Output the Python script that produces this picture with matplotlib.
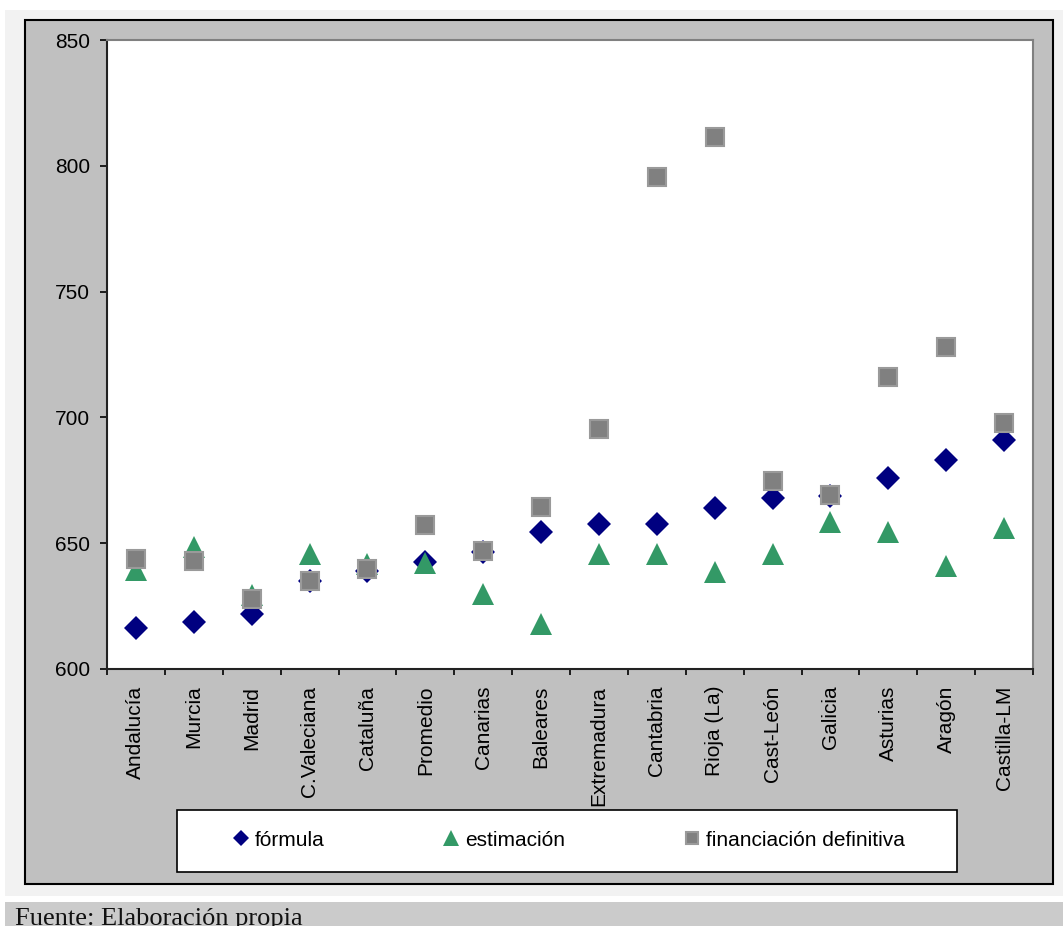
"""Financiación por habitante: fórmula, estimación y financiación definitiva"""

import numpy as np
import matplotlib
matplotlib.use('Agg')
import matplotlib.pyplot as plt
from matplotlib.patches import Rectangle

# datos
regiones = ['Andalucía', 'Murcia', 'Madrid', 'C.Valeciana', 'Cataluña', 'Promedio',
            'Canarias', 'Baleares', 'Extremadura', 'Cantabria', 'Rioja (La)',
            'Cast-León', 'Galicia', 'Asturias', 'Aragón', 'Castilla-LM']
formula = [616.3, 618.8, 621.7, 634.8, 639.1, 642.4, 646.6, 654.5,
           657.6, 657.6, 664.0, 667.8, 668.9, 675.9, 683.1, 691.0]
estimacion = [639.5, 648.6, 629.4, 645.7, 641.7, 642.3, 629.7, 617.9,
              645.7, 645.7, 638.4, 645.7, 658.3, 654.3, 641.1, 655.9]
financiacion = [643.6, 642.9, 627.8, 635.0, 639.7, 657.2, 646.9, 664.4,
                695.4, 795.7, 811.6, 674.8, 669.2, 716.2, 728.1, 697.9]
y_ticks = [600, 650, 700, 750, 800, 850]

W, H = 1063, 926
plt.rcParams['font.family'] = ['Liberation Sans', 'DejaVu Sans']

fig = plt.figure(figsize=(W / 100, H / 100), dpi=100, facecolor='white')


def px_rect(x0, y0, x1, y1, **kw):
    """rectángulo en píxeles (origen arriba a la izquierda)"""
    return Rectangle((x0 / W, 1 - y1 / H), (x1 - x0) / W, (y1 - y0) / H,
                     transform=fig.transFigure, **kw)


# fondos
fig.add_artist(px_rect(5, 10, W, 896, facecolor='#f2f2f2', edgecolor='none', zorder=-3))
fig.add_artist(px_rect(25, 20, 1053, 884, facecolor='#c0c0c0', edgecolor='black',
                       linewidth=1.5, zorder=-2))
fig.add_artist(px_rect(5, 902, W, H + 2, facecolor='#cbcbcb', edgecolor='none', zorder=-2))

# área de trazado
ax = fig.add_axes([107 / W, 1 - 669 / H, (1033 - 107) / W, (669 - 40) / H])
ax.set_facecolor('white')

x = np.arange(len(regiones))
ax.plot(x, formula, 'D', color='#000080', markersize=12, markeredgewidth=0,
        linestyle='none', label='fórmula')
ax.plot(x, estimacion, '^', color='#339966', markersize=16.5, markeredgewidth=0,
        linestyle='none', label='estimación')
ax.plot(x, financiacion, 's', markerfacecolor='#808080', markeredgecolor='#9a9a9a',
        markersize=13, markeredgewidth=1.5, linestyle='none',
        label='financiación definitiva')

ax.set_xlim(-0.5, len(regiones) - 0.5)
ax.set_ylim(600, 850)
ax.set_yticks(y_ticks)
ax.tick_params(axis='y', labelsize=15, length=5, width=1.2, pad=7, colors='black')

ax.set_xticks(x)
ax.set_xticklabels(regiones, rotation=90, fontsize=15)
ax.set_xticks(np.arange(-0.5, len(regiones), 1), minor=True)
ax.tick_params(axis='x', which='major', length=0, pad=12)
ax.tick_params(axis='x', which='minor', length=4.5, width=1.2)

for side in ['left', 'bottom']:
    ax.spines[side].set_color('#222222')
    ax.spines[side].set_linewidth(1.5)
for side in ['top', 'right']:
    ax.spines[side].set_color('#808080')
    ax.spines[side].set_linewidth(1.5)

# leyenda
fig.add_artist(px_rect(177, 810, 957, 872, facecolor='white', edgecolor='black',
                       linewidth=1.2, zorder=1))
handles, labels = ax.get_legend_handles_labels()
fig.legend(handles, labels, loc='center', bbox_to_anchor=(568.5 / W, 1 - 840 / H),
           ncol=3, frameon=False, fontsize=15, markerscale=0.68,
           handlelength=0.8, handletextpad=0.25, columnspacing=5.7)

# fuente
fig.text(15 / W, 1.5 / H, 'Fuente: Elaboración propia', fontsize=19,
         family=['Liberation Serif', 'DejaVu Serif'], va='baseline', ha='left',
         color='#111111')

fig.savefig('out.png', dpi=100, facecolor=fig.get_facecolor())
